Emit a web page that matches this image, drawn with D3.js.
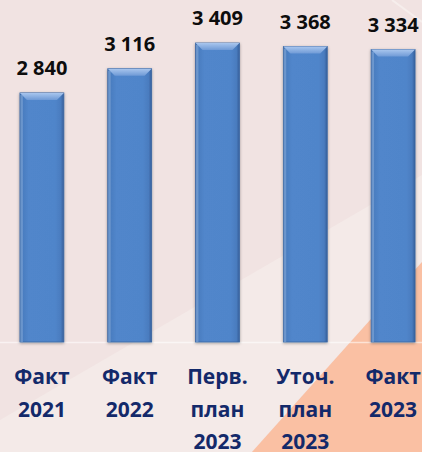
<!DOCTYPE html>
<html>
<head>
<meta charset="utf-8">
<script src="https://cdn.jsdelivr.net/npm/d3@7"></script>
<style>
  html, body { margin: 0; padding: 0; }
  body { width: 422px; height: 452px; overflow: hidden; background: #f1e3e2; }
</style>
</head>
<body>
<div id="chart"></div>
<script>
// data
var categories = ["Факт 2021", "Факт 2022", "Перв. план 2023", "Уточ. план 2023", "Факт 2023"];
var label_lines = [["Факт", "2021"], ["Факт", "2022"], ["Перв.", "план", "2023"], ["Уточ.", "план", "2023"], ["Факт", "2023"]];
var values = [2840, 3116, 3409, 3368, 3334];
var value_labels = ["2 840", "3 116", "3 409", "3 368", "3 334"];

var W = 422, H = 452;
var base_y = 342;

var svg = d3.select("#chart").append("svg")
  .attr("width", W).attr("height", H)
  .style("display", "block");

var defs = svg.append("defs");

// bar body: darker edges, lighter middle
var g_body = defs.append("linearGradient").attr("id", "bar_body")
  .attr("x1", "0").attr("x2", "1").attr("y1", "0").attr("y2", "0");
[[0, "#3a69a8"], [0.07, "#4a7dc0"], [0.2, "#5186cb"], [0.8, "#5085ca"], [0.93, "#4a7cbf"], [1, "#365f9a"]]
  .forEach(function(s){ g_body.append("stop").attr("offset", s[0]).attr("stop-color", s[1]) })

var g_top = defs.append("linearGradient").attr("id", "bar_top")
  .attr("x1", "0").attr("x2", "0").attr("y1", "0").attr("y2", "1");
g_top.append("stop").attr("offset", 0).attr("stop-color", "#a9c6ee");
g_top.append("stop").attr("offset", 1).attr("stop-color", "#6f9ad6");

var shadow = defs.append("filter").attr("id", "shadow")
  .attr("x", "-30%").attr("y", "-10%").attr("width", "160%").attr("height", "120%");
shadow.append("feDropShadow").attr("dx", 0).attr("dy", 1).attr("stdDeviation", 1.6)
  .attr("flood-color", "#000").attr("flood-opacity", 0.35);

// background
var bg = svg.append("g");
bg.append("rect").attr("width", W).attr("height", H).attr("fill", "#f1e3e2");
bg.append("polygon")
  .attr("points", "0,420 422,175 422,262 252,452 0,452")
  .attr("fill", "#f4eae8");
bg.append("polygon")
  .attr("points", "252,452 422,262 422,452")
  .attr("fill", "#fac0a3");
bg.append("line").attr("x1", 392).attr("y1", 0).attr("x2", 422).attr("y2", 22)
  .attr("stroke", "#f6eeec").attr("stroke-width", 2);

var x = d3.scaleBand().domain(categories).range([-2, 437]).paddingInner(0.5).paddingOuter(0.25);
var y = d3.scaleLinear().domain([0, 3409]).range([base_y, 43]);

// faint baseline
svg.append("line").attr("x1", 0).attr("x2", W).attr("y1", base_y + 0.5).attr("y2", base_y + 0.5)
  .attr("stroke", "#ffffff").attr("stroke-opacity", 0.55).attr("stroke-width", 1.5);

var bars = svg.append("g").selectAll("g.bar")
  .data(categories)
  .enter().append("g").attr("class", "bar");

bars.append("rect")
  .attr("x", function(d){ return x(d) })
  .attr("y", function(d, i){ return y(values[i]) })
  .attr("width", x.bandwidth())
  .attr("height", function(d, i){ return y(0) - y(values[i]) })
  .attr("fill", "url(#bar_body)")
  .attr("stroke", "#3b67a3").attr("stroke-width", 0.8)
  .attr("filter", "url(#shadow)");

// top bevel
var bev = 7;
bars.append("polygon")
  .attr("points", function(d, i){
    var x0 = x(d), x1 = x(d) + x.bandwidth(), t = y(values[i]);
    return [[x0, t], [x1, t], [x1 - bev, t + bev], [x0 + bev, t + bev]].join(" ");
  })
  .attr("fill", "url(#bar_top)");

// side bevels
bars.append("rect")
  .attr("x", function(d){ return x(d) + 0.4 })
  .attr("y", function(d, i){ return y(values[i]) + 2 })
  .attr("width", 2.5)
  .attr("height", function(d, i){ return y(0) - y(values[i]) - 2 })
  .attr("fill", "#8db0df").attr("opacity", 0.55);

// value labels
svg.append("g").selectAll("text")
  .data(values)
  .enter().append("text")
  .attr("x", function(d, i){ return x(categories[i]) + x.bandwidth() / 2 })
  .attr("y", function(d){ return y(d) - 18 })
  .attr("text-anchor", "middle")
  .attr("font-family", "'Open Sans', sans-serif")
  .attr("font-weight", 700)
  .attr("font-size", "20px")
  .attr("fill", "#0d0d0d")
  .text(function(d, i){ return value_labels[i] });

// category labels
var cats = svg.append("g").selectAll("text")
  .data(categories)
  .enter().append("text")
  .attr("text-anchor", "middle")
  .attr("font-family", "'Open Sans', sans-serif")
  .attr("font-weight", 700)
  .attr("font-size", "21px")
  .attr("fill", "#13296a");

cats.selectAll("tspan")
  .data(function(d, i){ return label_lines[i].map(function(t){ return {t: t, c: d} }) })
  .enter().append("tspan")
  .attr("x", function(d){ return x(d.c) + x.bandwidth() / 2 })
  .attr("y", function(d, j){ return 384 + j * 32.5 })
  .text(function(d){ return d.t });
</script>
</body>
</html>
